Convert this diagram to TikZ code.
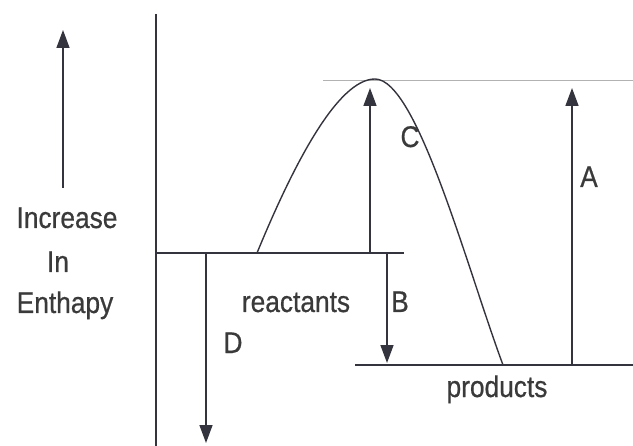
\documentclass[tikz,border=0pt]{standalone}
\usepackage{fontspec}
\setmainfont{Liberation Sans}[FakeStretch=0.88,FakeBold=0.6]
\usetikzlibrary{arrows.meta}
\definecolor{ink}{HTML}{34343E}
\definecolor{txt}{HTML}{3A3A3A}
\tikzset{
  line/.style={draw=ink, line width=1.8bp},
  thinline/.style={draw=gray!60, line width=0.8bp},
  arr/.style={draw=ink, line width=1.5bp, -{Triangle[length=18bp,width=13bp]}},
  lab/.style={text=txt, font=\fontsize{30}{32}\selectfont, anchor=base, inner sep=0pt},
}
\begin{document}
\begin{tikzpicture}[x=1bp,y=-1bp]
\useasboundingbox (0,0) rectangle (633,446);
% coordinates
\coordinate (axT) at (156,14);
\coordinate (axB) at (156,446);
\coordinate (rL) at (156,253);
\coordinate (rR) at (404,253);
\coordinate (pL) at (355,365);
\coordinate (pR) at (633,365);
\coordinate (tL) at (323,80);
\coordinate (tR) at (633,80);
\coordinate (cS) at (257,253);
\coordinate (peak) at (375,79);
\coordinate (cE) at (503,365);
\coordinate (eB) at (63,188);
\coordinate (eT) at (63,30);
\coordinate (dS) at (206,253);
\coordinate (dE) at (206,443);
\coordinate (cAs) at (370,253);
\coordinate (cAe) at (370,88);
\coordinate (bS) at (387,253);
\coordinate (bE) at (387,363);
\coordinate (aS) at (572,365);
\coordinate (aE) at (572,88);
% lines
\draw[thinline] (tL) -- (tR);
\draw[line] (axT) -- (axB);
\draw[line] (rL) -- (rR);
\draw[line] (pL) -- (pR);
\draw[draw=ink, line width=1.4bp] (cS) .. controls (292,168) and (337,79) .. (peak)
   .. controls (417,79) and (467,268) .. (cE);
% arrows
\draw[arr] (eB) -- (eT);
\draw[arr] (dS) -- (dE);
\draw[arr] (cAs) -- (cAe);
\draw[arr] (bS) -- (bE);
\draw[arr] (aS) -- (aE);
% labels
\node[lab] (inc) at (67,228) {Increase};
\node[lab] (in) at (58,272) {In};
\node[lab] (ent) at (65,313) {Enthapy};
\node[lab] (react) at (296,312) {reactants};
\node[lab] (prod) at (497,397) {products};
\node[lab] (lA) at (589,187) {A};
\node[lab] (lB) at (400,312) {B};
\node[lab] (lC) at (410,147) {C};
\node[lab] (lD) at (233,353) {D};
\end{tikzpicture}
\end{document}
